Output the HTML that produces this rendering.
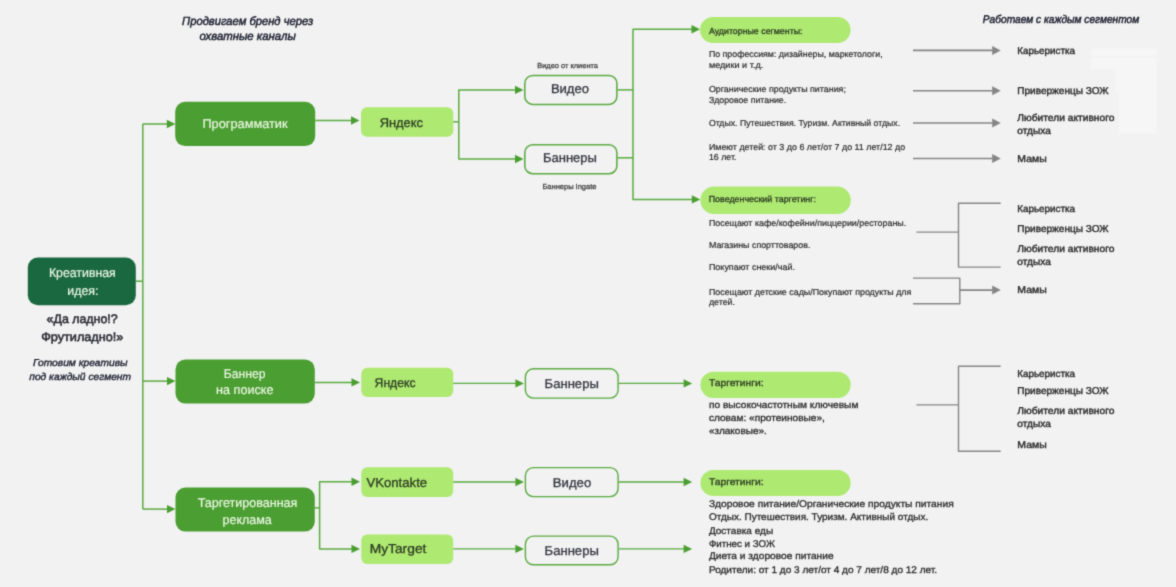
<!DOCTYPE html>
<html lang="ru">
<head>
<meta charset="utf-8">
<title>Схема</title>
<style>
html,body{margin:0;padding:0;background:#f2f2f2;}
body{width:1176px;height:587px;overflow:hidden;font-family:"Liberation Sans",sans-serif;}
svg{display:block;font-family:"Liberation Sans",sans-serif;text-rendering:geometricPrecision;}
</style>
</head>
<body>
<svg width="1176" height="587" viewBox="0 0 1176 587">
<defs><filter id="bl" x="-20" y="-20" width="1216" height="627" filterUnits="userSpaceOnUse" color-interpolation-filters="sRGB"><feConvolveMatrix order="3" kernelMatrix="0.0256 0.1088 0.0256 0.1088 0.4624 0.1088 0.0256 0.1088 0.0256" edgeMode="duplicate" preserveAlpha="true"/></filter></defs>
<g filter="url(#bl)">
<rect x="-30" y="-30" width="1236" height="647" fill="#f2f2f2"/>
<rect x="1090.6" y="49" width="65.9" height="7.0" fill="#f5f6f5"/>
<rect x="1090.6" y="57.5" width="65.9" height="11.5" fill="#f5f6f5"/>
<rect x="1115" y="69" width="41.5" height="22.0" fill="#f5f6f5"/>
<rect x="1119" y="91" width="37.5" height="42.4" fill="#f5f6f5"/>
<path d="M135.8 281.2 L142.8 281.2" fill="none" stroke="#5aaa40" stroke-width="1.5" stroke-linejoin="round"/>
<path d="M142.8 124.0 L142.8 509.1" fill="none" stroke="#5aaa40" stroke-width="1.5" stroke-linejoin="round"/>
<path d="M142.8 124.0 L167.3 124.0" fill="none" stroke="#5aaa40" stroke-width="1.5" stroke-linejoin="round"/>
<path d="M175.3 124.0 L166.8 119.8 L166.8 128.2 Z" fill="#4a9e30"/>
<path d="M142.8 381.1 L167.5 381.1" fill="none" stroke="#5aaa40" stroke-width="1.5" stroke-linejoin="round"/>
<path d="M175.5 381.1 L167.0 376.9 L167.0 385.3 Z" fill="#4a9e30"/>
<path d="M142.8 509.1 L167.5 509.1" fill="none" stroke="#5aaa40" stroke-width="1.5" stroke-linejoin="round"/>
<path d="M175.5 509.1 L167.0 504.9 L167.0 513.3 Z" fill="#4a9e30"/>
<rect x="27.8" y="257.5" width="108.0" height="47.7" rx="10" ry="10" fill="#1a6840"/>
<rect x="175.2" y="101.8" width="140.0" height="44.3" rx="10" ry="10" fill="#4b9e31"/>
<rect x="175.5" y="359.4" width="139.3" height="44.2" rx="10" ry="10" fill="#4b9e31"/>
<rect x="175.5" y="487.6" width="139.3" height="44.0" rx="10" ry="10" fill="#4b9e31"/>
<path d="M315.2 120.5 L351.5 120.5" fill="none" stroke="#5aaa40" stroke-width="1.5" stroke-linejoin="round"/>
<path d="M359.5 120.5 L351.0 116.3 L351.0 124.7 Z" fill="#4a9e30"/>
<path d="M314.8 382.4 L352.0 382.4" fill="none" stroke="#5aaa40" stroke-width="1.5" stroke-linejoin="round"/>
<path d="M360.0 382.4 L351.5 378.2 L351.5 386.6 Z" fill="#4a9e30"/>
<path d="M314.8 507.8 L319.6 507.8" fill="none" stroke="#5aaa40" stroke-width="1.5" stroke-linejoin="round"/>
<path d="M319.6 507.8 L319.6 481.7 L352.0 481.7" fill="none" stroke="#5aaa40" stroke-width="1.5" stroke-linejoin="round"/>
<path d="M360.0 481.7 L351.5 477.5 L351.5 485.9 Z" fill="#4a9e30"/>
<path d="M319.6 507.8 L319.6 548.9 L352.0 548.9" fill="none" stroke="#5aaa40" stroke-width="1.5" stroke-linejoin="round"/>
<path d="M360.0 548.9 L351.5 544.7 L351.5 553.1 Z" fill="#4a9e30"/>
<rect x="361.0" y="107.2" width="92.3" height="29.5" rx="6" ry="6" fill="#aee972"/>
<rect x="361.3" y="367.8" width="91.9" height="29.2" rx="6" ry="6" fill="#aee972"/>
<rect x="361.3" y="467.2" width="91.9" height="29.9" rx="6" ry="6" fill="#aee972"/>
<rect x="361.3" y="534.6" width="91.9" height="29.4" rx="6" ry="6" fill="#aee972"/>
<path d="M453.3 121.8 L458.8 121.8" fill="none" stroke="#5aaa40" stroke-width="1.5" stroke-linejoin="round"/>
<path d="M458.8 121.8 L458.8 89.9 L515.5 89.9" fill="none" stroke="#5aaa40" stroke-width="1.5" stroke-linejoin="round"/>
<path d="M523.5 89.9 L515.0 85.7 L515.0 94.1 Z" fill="#4a9e30"/>
<path d="M458.8 121.8 L458.8 159.0 L515.5 159.0" fill="none" stroke="#5aaa40" stroke-width="1.5" stroke-linejoin="round"/>
<path d="M523.5 159.0 L515.0 154.8 L515.0 163.2 Z" fill="#4a9e30"/>
<rect x="524.8" y="75.4" width="92.1" height="29.0" rx="8" ry="8" fill="#f2f2f2" stroke="#5aaa40" stroke-width="1.55"/>
<rect x="524.8" y="144.7" width="92.1" height="29.0" rx="8" ry="8" fill="#f2f2f2" stroke="#5aaa40" stroke-width="1.55"/>
<rect x="525.4" y="368.8" width="92.7" height="29.3" rx="8" ry="8" fill="#f2f2f2" stroke="#5aaa40" stroke-width="1.4"/>
<rect x="525.4" y="467.6" width="92.7" height="29.0" rx="8" ry="8" fill="#f2f2f2" stroke="#5aaa40" stroke-width="1.4"/>
<rect x="525.4" y="536.1" width="92.7" height="28.7" rx="8" ry="8" fill="#f2f2f2" stroke="#5aaa40" stroke-width="1.4"/>
<path d="M617.6 89.9 L633.0 89.9" fill="none" stroke="#5aaa40" stroke-width="1.5" stroke-linejoin="round"/>
<path d="M617.6 157.8 L633.0 157.8" fill="none" stroke="#5aaa40" stroke-width="1.5" stroke-linejoin="round"/>
<path d="M633.0 89.9 L633.0 29.3 L692.0 29.3" fill="none" stroke="#5aaa40" stroke-width="1.5" stroke-linejoin="round"/>
<path d="M700.0 29.3 L691.5 25.1 L691.5 33.5 Z" fill="#4a9e30"/>
<path d="M633.0 89.9 L633.0 199.4 L692.3 199.4" fill="none" stroke="#5aaa40" stroke-width="1.5" stroke-linejoin="round"/>
<path d="M700.3 199.4 L691.8 195.2 L691.8 203.6 Z" fill="#4a9e30"/>
<path d="M618.8 383.4 L684.1 383.4" fill="none" stroke="#5aaa40" stroke-width="1.3" stroke-linejoin="round"/>
<path d="M692.1 383.4 L683.6 379.2 L683.6 387.6 Z" fill="#4a9e30"/>
<path d="M618.8 482.0 L684.1 482.0" fill="none" stroke="#5aaa40" stroke-width="1.3" stroke-linejoin="round"/>
<path d="M692.1 482.0 L683.6 477.8 L683.6 486.2 Z" fill="#4a9e30"/>
<path d="M618.8 548.9 L684.1 548.9" fill="none" stroke="#5aaa40" stroke-width="1.3" stroke-linejoin="round"/>
<path d="M692.1 548.9 L683.6 544.7 L683.6 553.1 Z" fill="#4a9e30"/>
<path d="M453.2 383.4 L515.9 383.4" fill="none" stroke="#5aaa40" stroke-width="1.3" stroke-linejoin="round"/>
<path d="M523.9 383.4 L515.4 379.2 L515.4 387.6 Z" fill="#4a9e30"/>
<path d="M453.2 482.0 L515.9 482.0" fill="none" stroke="#5aaa40" stroke-width="1.3" stroke-linejoin="round"/>
<path d="M523.9 482.0 L515.4 477.8 L515.4 486.2 Z" fill="#4a9e30"/>
<path d="M453.2 548.9 L515.9 548.9" fill="none" stroke="#5aaa40" stroke-width="1.3" stroke-linejoin="round"/>
<path d="M523.9 548.9 L515.4 544.7 L515.4 553.1 Z" fill="#4a9e30"/>
<rect x="700.0" y="17.0" width="150.6" height="26.1" rx="13.1" ry="13.1" fill="#aee972"/>
<rect x="700.4" y="186.6" width="150.4" height="27.4" rx="13.7" ry="13.7" fill="#aee972"/>
<rect x="700.4" y="371.7" width="150.3" height="26.3" rx="13.2" ry="13.2" fill="#aee972"/>
<rect x="700.4" y="469.9" width="150.3" height="26.1" rx="13.1" ry="13.1" fill="#aee972"/>
<path d="M913.0 50.4 L992.7 50.4" fill="none" stroke="#858585" stroke-width="1.6" stroke-linejoin="round"/>
<path d="M1000.7 50.4 L992.2 45.9 L992.2 54.9 Z" fill="#858585"/>
<path d="M913.0 90.8 L992.7 90.8" fill="none" stroke="#858585" stroke-width="1.6" stroke-linejoin="round"/>
<path d="M1000.7 90.8 L992.2 86.3 L992.2 95.3 Z" fill="#858585"/>
<path d="M913.0 123.0 L992.7 123.0" fill="none" stroke="#858585" stroke-width="1.6" stroke-linejoin="round"/>
<path d="M1000.7 123.0 L992.2 118.5 L992.2 127.5 Z" fill="#858585"/>
<path d="M913.0 158.5 L992.7 158.5" fill="none" stroke="#858585" stroke-width="1.6" stroke-linejoin="round"/>
<path d="M1000.7 158.5 L992.2 154.0 L992.2 163.0 Z" fill="#858585"/>
<path d="M916.4 232.1 L958.5 232.1" fill="none" stroke="#858585" stroke-width="1.4" stroke-linejoin="round"/>
<path d="M1000.7 203.2 L958.5 203.2 L958.5 267.1 L1000.7 267.1" fill="none" stroke="#858585" stroke-width="1.4" stroke-linejoin="round"/>
<path d="M913.0 278.1 L959.8 278.1 L959.8 303.7 L913.0 303.7" fill="none" stroke="#858585" stroke-width="1.4" stroke-linejoin="round"/>
<path d="M959.8 290.1 L992.7 290.1" fill="none" stroke="#858585" stroke-width="1.6" stroke-linejoin="round"/>
<path d="M1000.7 290.1 L992.2 285.6 L992.2 294.6 Z" fill="#858585"/>
<path d="M916.4 404.9 L958.5 404.9" fill="none" stroke="#858585" stroke-width="1.4" stroke-linejoin="round"/>
<path d="M1000.7 366.3 L958.5 366.3 L958.5 451.2 L1000.7 451.2" fill="none" stroke="#858585" stroke-width="1.4" stroke-linejoin="round"/>
<text x="182.1" y="25.1" font-size="11.8" fill="#171a2b" textLength="131.1" lengthAdjust="spacingAndGlyphs" stroke="#171a2b" stroke-width="0.45" font-style="italic">Продвигаем бренд через</text>
<text x="199.5" y="40.0" font-size="11.8" fill="#171a2b" textLength="96.3" lengthAdjust="spacingAndGlyphs" stroke="#171a2b" stroke-width="0.45" font-style="italic">охватные каналы</text>
<text x="982.8" y="23.0" font-size="11.2" fill="#171a2b" textLength="156.4" lengthAdjust="spacingAndGlyphs" stroke="#171a2b" stroke-width="0.45" font-style="italic">Работаем с каждым сегментом</text>
<text x="48.9" y="277.0" font-size="12.8" fill="#ecf7e5" textLength="66.9" lengthAdjust="spacingAndGlyphs" stroke="#ecf7e5" stroke-width="0.2">Креативная</text>
<text x="67.3" y="294.5" font-size="12.8" fill="#ecf7e5" textLength="31.2" lengthAdjust="spacingAndGlyphs" stroke="#ecf7e5" stroke-width="0.2">идея:</text>
<text x="46.6" y="323.4" font-size="12.4" fill="#2b2b35" textLength="71.1" lengthAdjust="spacingAndGlyphs" stroke="#2b2b35" stroke-width="0.55">«Да ладно!?</text>
<text x="41.2" y="340.6" font-size="12.4" fill="#2b2b35" textLength="82.1" lengthAdjust="spacingAndGlyphs" stroke="#2b2b35" stroke-width="0.55">Фрутиладно!»</text>
<text x="33.0" y="366.1" font-size="10" fill="#171a2b" textLength="94.6" lengthAdjust="spacingAndGlyphs" stroke="#171a2b" stroke-width="0.35" font-style="italic">Готовим креативы</text>
<text x="29.3" y="380.1" font-size="10" fill="#171a2b" textLength="101.7" lengthAdjust="spacingAndGlyphs" stroke="#171a2b" stroke-width="0.35" font-style="italic">под каждый сегмент</text>
<text x="202.4" y="127.7" font-size="12.8" fill="#ecf7e5" textLength="85.2" lengthAdjust="spacingAndGlyphs" stroke="#ecf7e5" stroke-width="0.2">Программатик</text>
<text x="223.8" y="378.0" font-size="12.8" fill="#ecf7e5" textLength="41.6" lengthAdjust="spacingAndGlyphs" stroke="#ecf7e5" stroke-width="0.2">Баннер</text>
<text x="216.1" y="393.9" font-size="12.8" fill="#ecf7e5" textLength="57.3" lengthAdjust="spacingAndGlyphs" stroke="#ecf7e5" stroke-width="0.2">на поиске</text>
<text x="197.7" y="507.3" font-size="12.8" fill="#ecf7e5" textLength="99.7" lengthAdjust="spacingAndGlyphs" stroke="#ecf7e5" stroke-width="0.2">Таргетированная</text>
<text x="222.5" y="523.9" font-size="12.8" fill="#ecf7e5" textLength="49.3" lengthAdjust="spacingAndGlyphs" stroke="#ecf7e5" stroke-width="0.2">реклама</text>
<text x="379.7" y="126.8" font-size="12.8" fill="#2d3b22" textLength="43.3" lengthAdjust="spacingAndGlyphs" stroke="#2d3b22" stroke-width="0.3">Яндекс</text>
<text x="374.6" y="386.7" font-size="12.6" fill="#2d3b22" textLength="40.9" lengthAdjust="spacingAndGlyphs" stroke="#2d3b22" stroke-width="0.3">Яндекс</text>
<text x="366.4" y="486.8" font-size="13" fill="#2d3b22" textLength="60.8" lengthAdjust="spacingAndGlyphs" stroke="#2d3b22" stroke-width="0.3">VKontakte</text>
<text x="369.7" y="553.3" font-size="13" fill="#2d3b22" textLength="56.7" lengthAdjust="spacingAndGlyphs" stroke="#2d3b22" stroke-width="0.3">MyTarget</text>
<text x="550.9" y="93.2" font-size="12.8" fill="#33343f" textLength="38.1" lengthAdjust="spacingAndGlyphs" stroke="#33343f" stroke-width="0.3">Видео</text>
<text x="543.0" y="162.2" font-size="12.8" fill="#33343f" textLength="53.9" lengthAdjust="spacingAndGlyphs" stroke="#33343f" stroke-width="0.3">Баннеры</text>
<text x="544.6" y="388.0" font-size="12.8" fill="#33343f" textLength="54.2" lengthAdjust="spacingAndGlyphs" stroke="#33343f" stroke-width="0.3">Баннеры</text>
<text x="552.8" y="486.6" font-size="12.8" fill="#33343f" textLength="38.4" lengthAdjust="spacingAndGlyphs" stroke="#33343f" stroke-width="0.3">Видео</text>
<text x="544.6" y="554.6" font-size="12.8" fill="#33343f" textLength="54.2" lengthAdjust="spacingAndGlyphs" stroke="#33343f" stroke-width="0.3">Баннеры</text>
<text x="537.2" y="68.0" font-size="7.3" fill="#444" textLength="60.8" lengthAdjust="spacingAndGlyphs" stroke="#444" stroke-width="0.3">Видео от клиента</text>
<text x="542.4" y="188.8" font-size="7.4" fill="#444" textLength="54.1" lengthAdjust="spacingAndGlyphs" stroke="#444" stroke-width="0.3">Баннеры Ingate</text>
<text x="708.9" y="34.0" font-size="8.7" fill="#2d3b22" textLength="93.6" lengthAdjust="spacingAndGlyphs" stroke="#2d3b22" stroke-width="0.3">Аудиторные сегменты:</text>
<text x="708.9" y="56.8" font-size="8.7" fill="#2b2b2b" textLength="173.7" lengthAdjust="spacingAndGlyphs" stroke="#2b2b2b" stroke-width="0.2">По профессиям: дизайнеры, маркетологи,</text>
<text x="708.9" y="67.8" font-size="8.7" fill="#2b2b2b" textLength="54.4" lengthAdjust="spacingAndGlyphs" stroke="#2b2b2b" stroke-width="0.2">медики и т.д.</text>
<text x="708.9" y="91.8" font-size="8.7" fill="#2b2b2b" textLength="137.0" lengthAdjust="spacingAndGlyphs" stroke="#2b2b2b" stroke-width="0.2">Органические продукты питания;</text>
<text x="708.9" y="102.8" font-size="8.7" fill="#2b2b2b" textLength="77.3" lengthAdjust="spacingAndGlyphs" stroke="#2b2b2b" stroke-width="0.2">Здоровое питание.</text>
<text x="708.9" y="125.6" font-size="8.7" fill="#2b2b2b" textLength="191.2" lengthAdjust="spacingAndGlyphs" stroke="#2b2b2b" stroke-width="0.2">Отдых. Путешествия. Туризм. Активный отдых.</text>
<text x="708.9" y="149.6" font-size="8.7" fill="#2b2b2b" textLength="196.3" lengthAdjust="spacingAndGlyphs" stroke="#2b2b2b" stroke-width="0.2">Имеют детей: от 3 до 6 лет/от 7 до 11 лет/12 до</text>
<text x="708.9" y="160.3" font-size="8.7" fill="#2b2b2b" textLength="27.6" lengthAdjust="spacingAndGlyphs" stroke="#2b2b2b" stroke-width="0.2">16 лет.</text>
<text x="708.7" y="202.0" font-size="8.7" fill="#2d3b22" textLength="107.3" lengthAdjust="spacingAndGlyphs" stroke="#2d3b22" stroke-width="0.3">Поведенческий таргетинг:</text>
<text x="708.9" y="225.7" font-size="8.7" fill="#2b2b2b" textLength="197.3" lengthAdjust="spacingAndGlyphs" stroke="#2b2b2b" stroke-width="0.2">Посещают кафе/кофейни/пиццерии/рестораны.</text>
<text x="708.9" y="248.0" font-size="8.7" fill="#2b2b2b" textLength="101.5" lengthAdjust="spacingAndGlyphs" stroke="#2b2b2b" stroke-width="0.2">Магазины спорттоваров.</text>
<text x="708.9" y="270.4" font-size="8.7" fill="#2b2b2b" textLength="86.1" lengthAdjust="spacingAndGlyphs" stroke="#2b2b2b" stroke-width="0.2">Покупают снеки/чай.</text>
<text x="708.9" y="294.5" font-size="8.7" fill="#2b2b2b" textLength="202.4" lengthAdjust="spacingAndGlyphs" stroke="#2b2b2b" stroke-width="0.2">Посещают детские сады/Покупают продукты для</text>
<text x="708.9" y="305.4" font-size="8.7" fill="#2b2b2b" textLength="26.1" lengthAdjust="spacingAndGlyphs" stroke="#2b2b2b" stroke-width="0.2">детей.</text>
<text x="708.9" y="385.8" font-size="9.7" fill="#2d3b22" textLength="54.7" lengthAdjust="spacingAndGlyphs" stroke="#2d3b22" stroke-width="0.3">Таргетинги:</text>
<text x="708.9" y="407.5" font-size="9.7" fill="#2b2b2b" textLength="149.5" lengthAdjust="spacingAndGlyphs" stroke="#2b2b2b" stroke-width="0.3">по высокочастотным ключевым</text>
<text x="708.9" y="421.0" font-size="9.7" fill="#2b2b2b" textLength="116.0" lengthAdjust="spacingAndGlyphs" stroke="#2b2b2b" stroke-width="0.3">словам: «протеиновые»,</text>
<text x="708.9" y="434.3" font-size="9.7" fill="#2b2b2b" textLength="58.0" lengthAdjust="spacingAndGlyphs" stroke="#2b2b2b" stroke-width="0.3">«злаковые».</text>
<text x="708.9" y="485.4" font-size="9.7" fill="#2d3b22" textLength="54.7" lengthAdjust="spacingAndGlyphs" stroke="#2d3b22" stroke-width="0.3">Таргетинги:</text>
<text x="708.9" y="507.1" font-size="9.7" fill="#2b2b2b" textLength="244.8" lengthAdjust="spacingAndGlyphs" stroke="#2b2b2b" stroke-width="0.3">Здоровое питание/Органические продукты питания</text>
<text x="708.9" y="520.3" font-size="9.7" fill="#2b2b2b" textLength="219.3" lengthAdjust="spacingAndGlyphs" stroke="#2b2b2b" stroke-width="0.3">Отдых. Путешествия. Туризм. Активный отдых.</text>
<text x="708.9" y="534.2" font-size="9.7" fill="#2b2b2b" textLength="64.2" lengthAdjust="spacingAndGlyphs" stroke="#2b2b2b" stroke-width="0.3">Доставка еды</text>
<text x="708.9" y="546.8" font-size="9.7" fill="#2b2b2b" textLength="66.0" lengthAdjust="spacingAndGlyphs" stroke="#2b2b2b" stroke-width="0.3">Фитнес и ЗОЖ</text>
<text x="708.9" y="559.4" font-size="9.7" fill="#2b2b2b" textLength="124.7" lengthAdjust="spacingAndGlyphs" stroke="#2b2b2b" stroke-width="0.3">Диета и здоровое питание</text>
<text x="708.9" y="573.0" font-size="9.7" fill="#2b2b2b" textLength="228.2" lengthAdjust="spacingAndGlyphs" stroke="#2b2b2b" stroke-width="0.3">Родители: от 1 до 3 лет/от 4 до 7 лет/8 до 12 лет.</text>
<text x="1017.3" y="53.7" font-size="9.9" fill="#2b2b2b" textLength="57.7" lengthAdjust="spacingAndGlyphs" stroke="#2b2b2b" stroke-width="0.4">Карьеристка</text>
<text x="1017.3" y="93.8" font-size="9.9" fill="#2b2b2b" textLength="91.3" lengthAdjust="spacingAndGlyphs" stroke="#2b2b2b" stroke-width="0.4">Приверженцы ЗОЖ</text>
<text x="1017.3" y="120.6" font-size="9.9" fill="#2b2b2b" textLength="97.1" lengthAdjust="spacingAndGlyphs" stroke="#2b2b2b" stroke-width="0.4">Любители активного</text>
<text x="1017.3" y="133.9" font-size="9.9" fill="#2b2b2b" textLength="33.5" lengthAdjust="spacingAndGlyphs" stroke="#2b2b2b" stroke-width="0.4">отдыха</text>
<text x="1017.3" y="162.1" font-size="9.9" fill="#2b2b2b" textLength="29.4" lengthAdjust="spacingAndGlyphs" stroke="#2b2b2b" stroke-width="0.4">Мамы</text>
<text x="1017.3" y="211.7" font-size="9.9" fill="#2b2b2b" textLength="57.7" lengthAdjust="spacingAndGlyphs" stroke="#2b2b2b" stroke-width="0.4">Карьеристка</text>
<text x="1017.3" y="231.6" font-size="9.9" fill="#2b2b2b" textLength="91.3" lengthAdjust="spacingAndGlyphs" stroke="#2b2b2b" stroke-width="0.4">Приверженцы ЗОЖ</text>
<text x="1017.3" y="252.3" font-size="9.9" fill="#2b2b2b" textLength="97.1" lengthAdjust="spacingAndGlyphs" stroke="#2b2b2b" stroke-width="0.4">Любители активного</text>
<text x="1017.3" y="265.0" font-size="9.9" fill="#2b2b2b" textLength="33.5" lengthAdjust="spacingAndGlyphs" stroke="#2b2b2b" stroke-width="0.4">отдыха</text>
<text x="1017.3" y="293.2" font-size="9.9" fill="#2b2b2b" textLength="29.4" lengthAdjust="spacingAndGlyphs" stroke="#2b2b2b" stroke-width="0.4">Мамы</text>
<text x="1017.3" y="376.6" font-size="9.9" fill="#2b2b2b" textLength="57.7" lengthAdjust="spacingAndGlyphs" stroke="#2b2b2b" stroke-width="0.4">Карьеристка</text>
<text x="1017.3" y="394.2" font-size="9.9" fill="#2b2b2b" textLength="91.3" lengthAdjust="spacingAndGlyphs" stroke="#2b2b2b" stroke-width="0.4">Приверженцы ЗОЖ</text>
<text x="1017.3" y="413.5" font-size="9.9" fill="#2b2b2b" textLength="97.1" lengthAdjust="spacingAndGlyphs" stroke="#2b2b2b" stroke-width="0.4">Любители активного</text>
<text x="1017.3" y="427.0" font-size="9.9" fill="#2b2b2b" textLength="33.5" lengthAdjust="spacingAndGlyphs" stroke="#2b2b2b" stroke-width="0.4">отдыха</text>
<text x="1017.3" y="447.6" font-size="9.9" fill="#2b2b2b" textLength="29.4" lengthAdjust="spacingAndGlyphs" stroke="#2b2b2b" stroke-width="0.4">Мамы</text>
</g>
</svg>
</body>
</html>
